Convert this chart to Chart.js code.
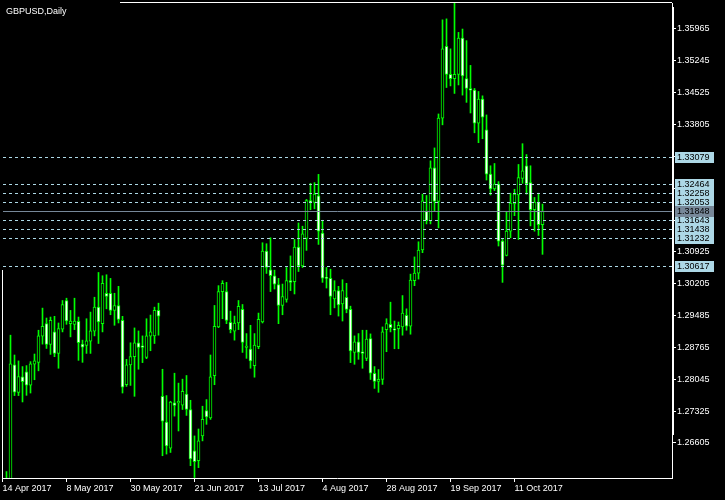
<!DOCTYPE html>
<html>
<head>
<meta charset="utf-8">
<script src="https://cdn.jsdelivr.net/npm/chart.js@4.4.0/dist/chart.umd.min.js"></script>
<style>
  html, body { margin: 0; padding: 0; background: #000; }
  canvas { display: block; }
</style>
</head>
<body>
<canvas id="grafico" width="725" height="500"></canvas>
<script>
// --- Dados: GBPUSD diario, 14 Apr 2017 - 20 Oct 2017 ---
const opens = [1.2520, 1.2525, 1.2560, 1.28370, 1.27750, 1.28101, 1.28213, 1.27913, 1.28384, 1.28428,
    1.29020, 1.29302, 1.28832, 1.29116, 1.28630, 1.29176, 1.29826, 1.29302, 1.29288, 1.29356,
    1.28840, 1.28809, 1.28908, 1.29132, 1.29676, 1.29302, 1.29990, 1.29990, 1.29602, 1.29714,
    1.29378, 1.27922, 1.28370, 1.28556, 1.28870, 1.28802, 1.28540, 1.29020, 1.29026, 1.29602,
    1.27660, 1.27078, 1.26488, 1.27510, 1.27510, 1.27458, 1.27712, 1.27362, 1.26428, 1.26204,
    1.26764, 1.27340, 1.27174, 1.28124, 1.29228, 1.30028, 1.30028, 1.29333, 1.29132, 1.29318,
    1.29624, 1.28764, 1.28728, 1.28354, 1.28780, 1.29340, 1.30946, 1.30520, 1.30386, 1.30184,
    1.29714, 1.29848, 1.30274, 1.30252, 1.31036, 1.30610, 1.31228, 1.32088, 1.32044, 1.32192,
    1.31349, 1.30348, 1.30326, 1.29862, 1.30050, 1.29750, 1.29900, 1.29624, 1.28652, 1.28892,
    1.28668, 1.28518, 1.28966, 1.28182, 1.27996, 1.28041, 1.29168, 1.29288, 1.29183, 1.29190,
    1.29228, 1.29490, 1.29244, 1.30274, 1.30444, 1.30968, 1.31842, 1.31632, 1.32828, 1.32066,
    1.33948, 1.35574, 1.34940, 1.34844, 1.34940, 1.35762, 1.34844, 1.34620, 1.34582, 1.33836,
    1.34380, 1.33686, 1.32684, 1.32348, 1.32460, 1.31170, 1.30848, 1.31394, 1.32012, 1.32214,
    1.32588, 1.32872, 1.32492, 1.31878, 1.32050, 1.31542];
const highs = [1.2535, 1.25958, 1.29042, 1.28594, 1.28460, 1.28332, 1.28354, 1.28444, 1.28616, 1.29154,
    1.29654, 1.29430, 1.29452, 1.29468, 1.29318, 1.29826, 1.29878, 1.29602, 1.29878, 1.29452,
    1.28930, 1.29414, 1.29564, 1.29900, 1.30460, 1.30386, 1.30408, 1.30326, 1.29990, 1.30146,
    1.29468, 1.28496, 1.28870, 1.29206, 1.29138, 1.29026, 1.29414, 1.29497, 1.29676, 1.29766,
    1.28272, 1.27676, 1.27548, 1.28182, 1.27958, 1.28048, 1.28130, 1.27570, 1.26764, 1.26921,
    1.27436, 1.27586, 1.28594, 1.29714, 1.30162, 1.30274, 1.30236, 1.29586, 1.29474, 1.29826,
    1.29736, 1.29078, 1.29266, 1.29078, 1.29542, 1.31132, 1.31110, 1.31244, 1.30512, 1.30326,
    1.30198, 1.30572, 1.30834, 1.31206, 1.31580, 1.31506, 1.32111, 1.32476, 1.32492, 1.32678,
    1.31640, 1.30572, 1.30534, 1.30274, 1.30146, 1.30296, 1.30214, 1.29698, 1.29026, 1.29078,
    1.29154, 1.29154, 1.29071, 1.28332, 1.28265, 1.29228, 1.29414, 1.29788, 1.29362, 1.29340,
    1.29938, 1.29638, 1.30422, 1.30812, 1.31154, 1.32230, 1.32200, 1.32984, 1.33276, 1.34044,
    1.36172, 1.36194, 1.35516, 1.36560, 1.35888, 1.35964, 1.35702, 1.35142, 1.34620, 1.34552,
    1.34454, 1.34022, 1.32872, 1.32924, 1.32514, 1.31206, 1.31842, 1.32252, 1.32342, 1.32902,
    1.33372, 1.33126, 1.32872, 1.32156, 1.32252, 1.32006];
const lows = [1.2505, 1.2515, 1.2555, 1.27676, 1.27676, 1.27532, 1.27682, 1.27734, 1.28034, 1.28236,
    1.28840, 1.28742, 1.28608, 1.28556, 1.28294, 1.29116, 1.29288, 1.29004, 1.29168, 1.28473,
    1.28428, 1.28630, 1.28630, 1.29026, 1.28854, 1.29116, 1.29638, 1.29504, 1.29266, 1.29318,
    1.27734, 1.27884, 1.27906, 1.27660, 1.28272, 1.28422, 1.28511, 1.28690, 1.28854, 1.29042,
    1.26316, 1.26354, 1.26390, 1.27212, 1.26876, 1.27362, 1.27228, 1.26092, 1.25823, 1.26047,
    1.26652, 1.27026, 1.27138, 1.27922, 1.29212, 1.29414, 1.29302, 1.29094, 1.28930, 1.29168,
    1.28652, 1.28518, 1.28294, 1.28092, 1.28735, 1.29318, 1.30438, 1.30028, 1.30086, 1.29302,
    1.29504, 1.29788, 1.30050, 1.29974, 1.30482, 1.30572, 1.30960, 1.31878, 1.31900, 1.31094,
    1.30236, 1.30108, 1.29504, 1.29660, 1.29474, 1.29362, 1.29548, 1.28422, 1.28384, 1.28496,
    1.28294, 1.28466, 1.28041, 1.27839, 1.27750, 1.27929, 1.28668, 1.29116, 1.28735, 1.28735,
    1.29042, 1.29154, 1.29064, 1.30162, 1.30310, 1.30908, 1.31558, 1.31558, 1.31842, 1.31468,
    1.33798, 1.34642, 1.34678, 1.34508, 1.34700, 1.34470, 1.34306, 1.34066, 1.33618, 1.33394,
    1.33484, 1.32550, 1.32214, 1.32312, 1.31058, 1.30236, 1.30834, 1.31244, 1.31744, 1.31206,
    1.32476, 1.32230, 1.31513, 1.31394, 1.31296, 1.30870];
const closes = [1.2525, 1.2565, 1.28392, 1.27756, 1.28108, 1.27989, 1.27913, 1.28392, 1.28460, 1.29026,
    1.29244, 1.28832, 1.29378, 1.28630, 1.29190, 1.29736, 1.29362, 1.29362, 1.29362, 1.28870,
    1.28773, 1.28914, 1.29138, 1.29676, 1.29340, 1.30214, 1.29916, 1.29602, 1.29714, 1.29400,
    1.27868, 1.28370, 1.28556, 1.28870, 1.28764, 1.28764, 1.29026, 1.29116, 1.29602, 1.29474,
    1.27100, 1.26540, 1.27532, 1.27452, 1.27548, 1.27772, 1.27362, 1.26242, 1.26182, 1.26652,
    1.27138, 1.27196, 1.28101, 1.29244, 1.30028, 1.30214, 1.29378, 1.29168, 1.29318, 1.29692,
    1.28876, 1.28796, 1.28460, 1.28818, 1.29400, 1.30946, 1.30572, 1.30386, 1.30198, 1.29714,
    1.29916, 1.30274, 1.30236, 1.31036, 1.30610, 1.31334, 1.32088, 1.32044, 1.32230, 1.31394,
    1.30332, 1.30326, 1.29916, 1.30050, 1.29728, 1.30050, 1.29624, 1.28684, 1.28892, 1.28652,
    1.28630, 1.28952, 1.28182, 1.27996, 1.28041, 1.29116, 1.29302, 1.29212, 1.29154, 1.29266,
    1.29542, 1.29244, 1.30288, 1.30444, 1.30968, 1.32080, 1.31632, 1.32828, 1.32066, 1.33948,
    1.35516, 1.34940, 1.34844, 1.34940, 1.35762, 1.34902, 1.34620, 1.34582, 1.33836, 1.34380,
    1.33970, 1.32684, 1.32348, 1.32460, 1.31170, 1.30624, 1.31394, 1.32028, 1.32230, 1.32604,
    1.32760, 1.32460, 1.31878, 1.32050, 1.31542, 1.31848];

const xTickIdx = [0, 16, 32, 48, 64, 80, 96, 112, 128];
const xTickLabels = ['14 Apr 2017', '8 May 2017', '30 May 2017', '21 Jun 2017', '13 Jul 2017',
    '4 Aug 2017', '28 Aug 2017', '19 Sep 2017', '11 Oct 2017'];
const yTicks = [1.26605, 1.27325, 1.28045, 1.28765, 1.29485, 1.30205, 1.30925, 1.31645,
    1.32365, 1.33085, 1.33805, 1.34525, 1.35245, 1.35965];
const yTicksHidden = [1.31645, 1.32365, 1.33085];
const levels = [1.33079, 1.32464, 1.32258, 1.32053, 1.31643, 1.31438, 1.31232, 1.30617];
const bid = 1.31848;

// --- Estilo ---
const VERDE = '#00ff00';
const AZUL = '#add8e6';
const CINZA = '#778899';
const FONTE = 'Liberation Sans';

// --- Plugin: fundo, moldura, linhas horizontais e rótulos ---
const molduraPlugin = {
    id: 'moldura',
    beforeDraw(chart) {
        const c = chart.ctx;
        c.save();
        c.fillStyle = '#000';
        c.fillRect(0, 0, chart.width, chart.height);
        c.restore();
    },
    afterDraw(chart) {
        const c = chart.ctx;
        const a = chart.chartArea;
        const y = chart.scales.y;
        c.save();

        // moldura
        c.fillStyle = '#fff';
        c.fillRect(2, 270, 1, a.bottom - 270);
        c.fillRect(120, 2, a.right - 120, 1);
        c.fillRect(a.right, 7, 2, 428);

        // níveis tracejados
        c.lineWidth = 1;
        c.strokeStyle = AZUL;
        c.setLineDash([3, 3]);
        levels.forEach(v => {
            const py = Math.round(y.getPixelForValue(v)) + 0.5;
            c.beginPath();
            c.moveTo(a.left + 1, py);
            c.lineTo(a.right, py);
            c.stroke();
        });
        c.setLineDash([]);
        c.strokeStyle = CINZA;
        const pb = Math.round(y.getPixelForValue(bid)) + 0.5;
        c.beginPath();
        c.moveTo(a.left + 1, pb);
        c.lineTo(a.right, pb);
        c.stroke();

        // caixas de preço
        c.font = '9px "' + FONTE + '"';
        c.textBaseline = 'middle';
        c.textAlign = 'left';
        const caixa = (v, fundo) => {
            const py = Math.round(y.getPixelForValue(v));
            c.fillStyle = fundo;
            c.fillRect(675, py - 5, 39, 11);
            c.fillStyle = '#000';
            c.fillText(v.toFixed(5), 677, py + 0.5);
        };
        levels.forEach(v => caixa(v, AZUL));
        caixa(bid, CINZA);

        // título
        c.fillStyle = '#fff';
        c.textBaseline = 'alphabetic';
        c.fillText('GBPUSD,Daily', 6, 14);
        c.restore();
    }
};

// --- Configuração do Gráfico ---
const pavios = highs.map((h, i) => ({ x: i, y: [lows[i], h] }));
const corpos = opens.map((o, i) => ({ x: i, y: [o, closes[i]] }));
const corFundo = opens.map((o, i) => closes[i] >= o ? '#000000' : '#ffffff');

const ctx = document.getElementById('grafico');
const grafico = new Chart(ctx, {
    type: 'bar',
    data: {
        datasets: [{
            label: 'corpo',
            data: corpos,
            backgroundColor: corFundo,
            borderColor: VERDE,
            borderWidth: 1,
            borderSkipped: false,
            barThickness: 3,
            grouped: false,
            order: 0,
            clip: 0
        }, {
            label: 'pavio',
            data: pavios,
            backgroundColor: VERDE,
            borderWidth: 0,
            barThickness: 1,
            grouped: false,
            order: 1,
            clip: 0
        }]
    },
    options: {
        responsive: false,
        animation: false,
        layout: { padding: { left: 2, top: 3, right: 0, bottom: 0 } },
        plugins: {
            legend: { display: false },
            tooltip: { enabled: false }
        },
        scales: {
            x: {
                type: 'linear',
                min: -0.125,
                max: 167.375,
                offset: false,
                grid: { display: true, drawOnChartArea: false, color: '#fff', tickLength: 4, offset: false },
                border: { color: '#fff' },
                ticks: {
                    color: '#fff',
                    font: { family: FONTE, size: 9 },
                    align: 'start',
                    padding: 1,
                    maxRotation: 0,
                    autoSkip: false,
                    callback: v => xTickLabels[xTickIdx.indexOf(v)]
                },
                afterBuildTicks: s => { s.ticks = xTickIdx.map(v => ({ value: v })); },
                afterFit: s => { s.height = 22; s.paddingLeft = 0; s.paddingRight = 0; }
            },
            y: {
                position: 'right',
                min: 1.258128,
                max: 1.365528,
                grid: { display: true, drawOnChartArea: false, color: '#fff', tickLength: 4 },
                border: { color: '#fff' },
                ticks: {
                    color: '#fff',
                    font: { family: FONTE, size: 9 },
                    padding: 1,
                    autoSkip: false,
                    callback: v => yTicksHidden.includes(+v.toFixed(5)) ? '' : v.toFixed(5)
                },
                afterBuildTicks: s => { s.ticks = yTicks.map(v => ({ value: v })); },
                afterFit: s => { s.width = 53; s.paddingTop = 0; s.paddingBottom = 0; }
            }
        }
    },
    plugins: [molduraPlugin]
});
</script>
</body>
</html>
